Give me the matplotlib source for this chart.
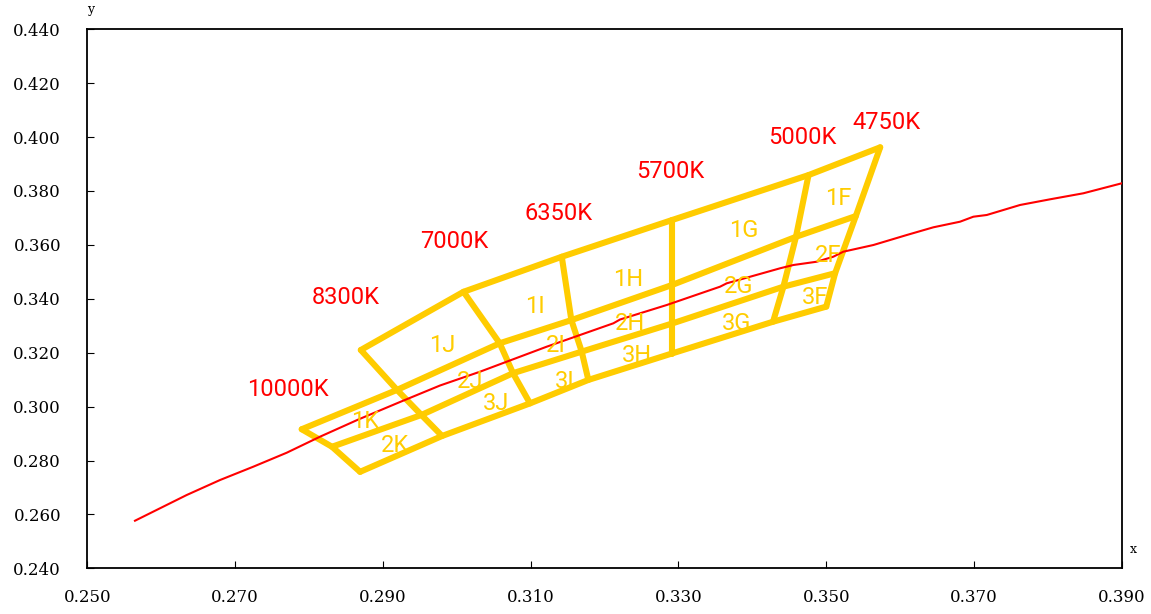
import matplotlib
matplotlib.use("Agg")
import matplotlib.pyplot as plt
import numpy as np

# ---- data ----
cct_names = ['10000K', '8300K', '7000K', '6350K', '5700K', '5000K', '4750K']
cct_label_x = [0.2771, 0.2850, 0.2997, 0.3137, 0.3289, 0.3467, 0.3582]
cct_label_y = [0.3062, 0.3403, 0.3611, 0.3718, 0.3874, 0.4000, 0.4056]

# boundary lines of the quadrangle rows (ordered 10000K ... 4750K; None = absent)
bound1_x = [None, 0.2870, 0.3009, 0.3142, 0.3291, 0.3476, 0.3573]
bound1_y = [None, 0.3210, 0.3426, 0.3556, 0.3692, 0.3859, 0.3962]
bound2_x = [0.2790, 0.2919, 0.3058, 0.3155, 0.3291, 0.3459, 0.3540]
bound2_y = [0.2916, 0.3062, 0.3235, 0.3321, 0.3451, 0.3630, 0.3707]
bound3_x = [0.2831, 0.2952, 0.3076, 0.3169, 0.3291, 0.3442, 0.3512]
bound3_y = [0.2851, 0.2969, 0.3124, 0.3204, 0.3308, 0.3445, 0.3495]
bound4_x = [0.2869, 0.2980, 0.3099, 0.3178, 0.3291, 0.3428, 0.3500]
bound4_y = [0.2758, 0.2891, 0.3012, 0.3099, 0.3197, 0.3315, 0.3371]

cell_names = ['1K', '2K', '1J', '2J', '3J', '1I', '2I', '3I', '1H', '2H', '3H',
              '1G', '2G', '3G', '1F', '2F', '3F']
cell_x = [0.2876, 0.2916, 0.2980, 0.3018, 0.3053, 0.3106, 0.3134, 0.3146,
          0.3232, 0.3234, 0.3244, 0.3389, 0.3382, 0.3379, 0.3516, 0.3502, 0.3485]
cell_y = [0.2943, 0.2854, 0.3225, 0.3095, 0.3010, 0.3373, 0.3225, 0.3095,
          0.3470, 0.3310, 0.3188, 0.3655, 0.3447, 0.3310, 0.3774, 0.3559, 0.3403]

# blackbody locus
locus_x = [0.25643, 0.26343, 0.26794, 0.27244, 0.27697, 0.28147, 0.28666, 0.29230,
           0.29772, 0.30313, 0.31216, 0.32118, 0.32209, 0.32841, 0.33562, 0.33653,
           0.34375, 0.34555, 0.34871, 0.35096, 0.35231, 0.35638, 0.36090, 0.36450,
           0.36811, 0.36991, 0.37173, 0.37623, 0.38030, 0.38480, 0.39000]
locus_y = [0.25766, 0.26720, 0.27276, 0.27770, 0.28289, 0.28883, 0.29521, 0.30171,
           0.30783, 0.31295, 0.32223, 0.33091, 0.33232, 0.33770, 0.34449, 0.34575,
           0.35132, 0.35254, 0.35376, 0.35562, 0.35748, 0.35996, 0.36367, 0.36653,
           0.36861, 0.37046, 0.37110, 0.37481, 0.37692, 0.37915, 0.38286]

x_ticks = [0.25, 0.27, 0.29, 0.31, 0.33, 0.35, 0.37, 0.39]
y_ticks = [0.24, 0.26, 0.28, 0.30, 0.32, 0.34, 0.36, 0.38, 0.40, 0.42, 0.44]

# ---- figure ----
YEL = '#FFCC00'
RED = '#FF0000'
fig = plt.figure(figsize=(11.51, 6.14), dpi=100)
ax = fig.add_axes([0.0760, 0.0744, 0.8986, 0.8779])

ax.plot(locus_x, locus_y, color=RED, lw=1.5, zorder=3)

lw = 4.4
kw = dict(color=YEL, lw=lw, solid_joinstyle='round', solid_capstyle='round', zorder=2)
for bx, by in [(bound1_x, bound1_y), (bound2_x, bound2_y), (bound3_x, bound3_y), (bound4_x, bound4_y)]:
    px = [v for v in bx if v is not None]
    py = [v for v in by if v is not None]
    ax.plot(px, py, **kw)
for i in range(len(cct_names)):
    cx, cy = [], []
    for bx, by in [(bound1_x, bound1_y), (bound2_x, bound2_y), (bound3_x, bound3_y), (bound4_x, bound4_y)]:
        if bx[i] is not None:
            cx.append(bx[i]); cy.append(by[i])
    ax.plot(cx, cy, **kw)

for n, x, y in zip(cell_names, cell_x, cell_y):
    ax.text(x, y, n, color=YEL, fontsize=17, family='Roboto', ha='center', va='center', zorder=4)
for n, x, y in zip(cct_names, cct_label_x, cct_label_y):
    ax.text(x, y, n, color=RED, fontsize=17, family='Roboto', ha='center', va='center', zorder=4)

ax.set_xlim(0.25, 0.39)
ax.set_ylim(0.24, 0.44)
ax.set_xticks(x_ticks)
ax.set_yticks(y_ticks)
ax.set_xticklabels([f'{v:.3f}' for v in x_ticks], family='DejaVu Serif', fontsize=12)
ax.set_yticklabels([f'{v:.3f}' for v in y_ticks], family='DejaVu Serif', fontsize=12)
ax.tick_params(axis='x', direction='in', length=5, width=0.8, pad=15)
ax.tick_params(axis='y', direction='in', length=5, width=0.8, pad=19)
for s in ax.spines.values():
    s.set_linewidth(1.3)

ax.text(1.008, 0.035, 'x', transform=ax.transAxes, family='DejaVu Serif', fontsize=9, ha='left', va='center')
ax.text(0.003, 1.025, 'y', transform=ax.transAxes, family='DejaVu Serif', fontsize=9, ha='center', va='bottom')

fig.savefig('out.png', dpi=100)
